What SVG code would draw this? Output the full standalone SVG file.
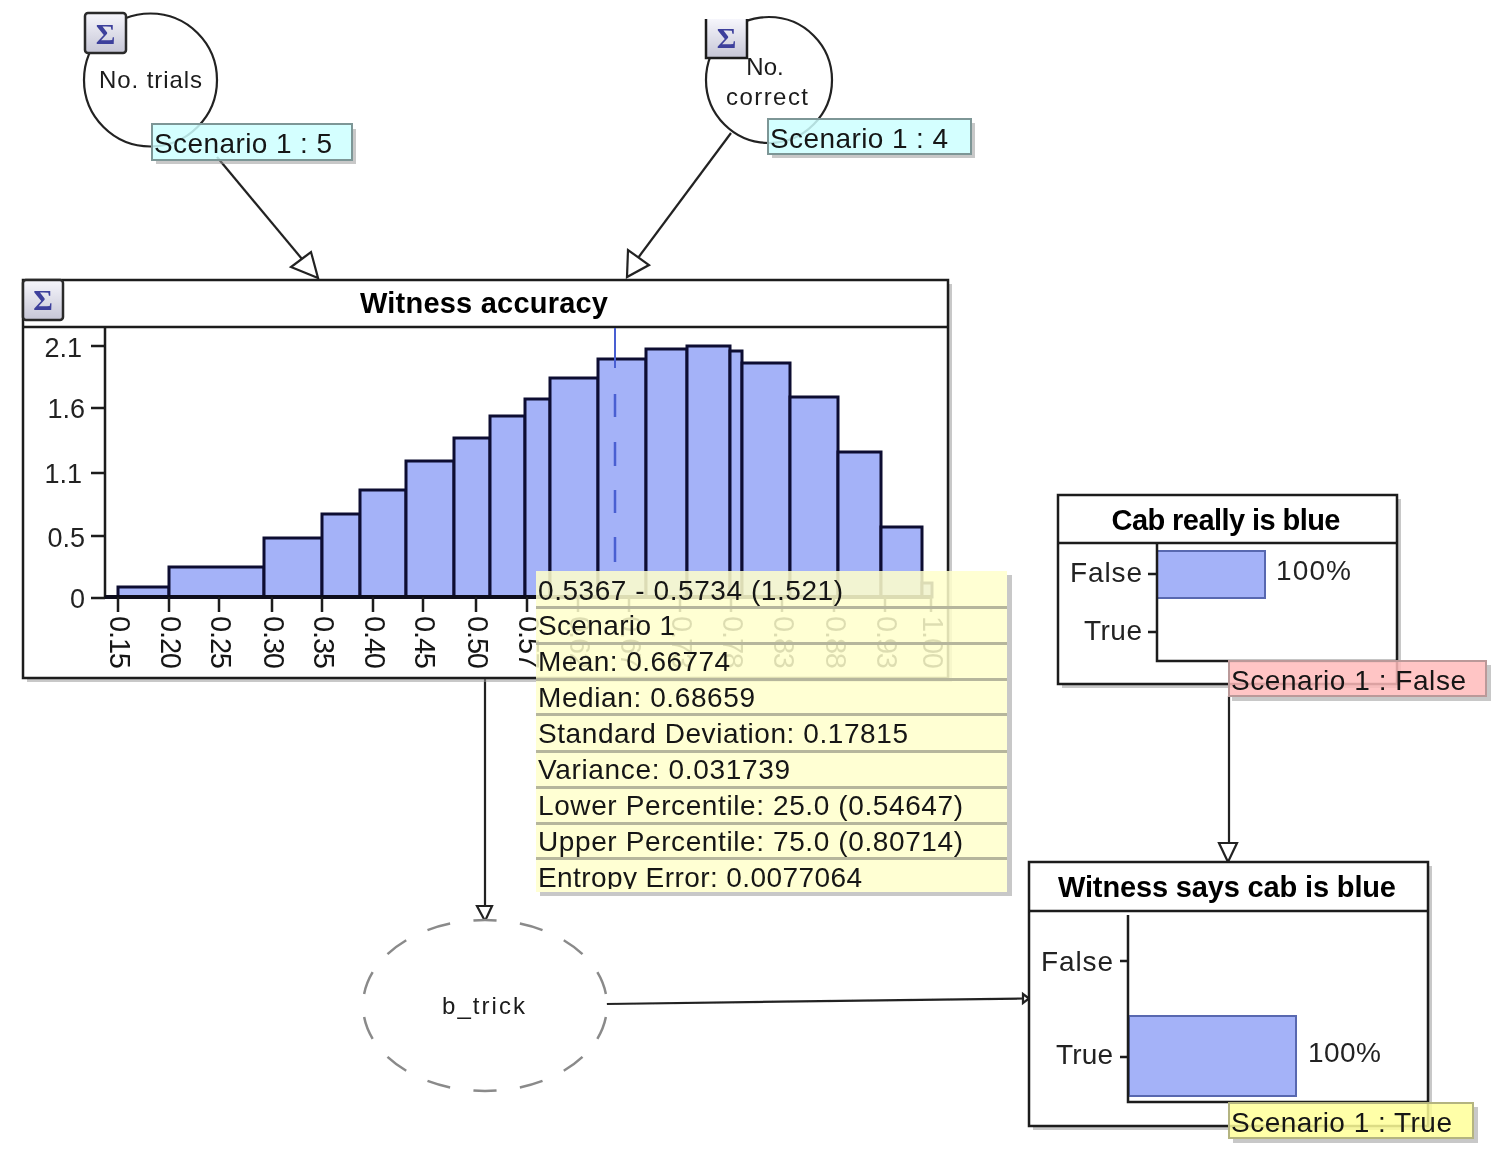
<svg xmlns="http://www.w3.org/2000/svg" width="1500" height="1156" viewBox="0 0 1500 1156">
<style>
text{font-family:"Liberation Sans",Arial,sans-serif;fill:#141414}
.t{font-size:28px}
.title{font-size:29px;font-weight:bold;fill:#000;text-anchor:middle}
.small{font-size:24px;fill:#1a1a1a}
.ax{font-size:28px;fill:#242424}
.yl{font-size:27px;fill:#242424;text-anchor:end}
.box{fill:#fff;stroke:#1a1a1a;stroke-width:2.5}
.line{stroke:#1a1a1a;stroke-width:2.5;fill:none}
.shadow{fill:#9a9a9a;fill-opacity:.55}
.bar{fill:#a4b2f8;stroke:#0c0c30;stroke-width:3}
.hbar{fill:#a4b2f8;stroke:#5868b0;stroke-width:2}
.conn{stroke:#222;stroke-width:2.2;fill:none}
.head{fill:#fff;stroke:#222;stroke-width:2.2}
.sigma{font-family:"Liberation Serif","DejaVu Serif",serif;font-size:30px;font-weight:bold;fill:#3c3f9c;text-anchor:middle}
.btn{fill:url(#btn);stroke:#2a2a2a;stroke-width:2.5}
.row{fill:#ffffcc;fill-opacity:.86}
.sep{fill:#b6b69c}
.xl{font-size:29px}
</style>
<defs>
<linearGradient id="btn" x1="0" y1="0" x2="0" y2="1"><stop offset="0" stop-color="#f6f6fc"/><stop offset="1" stop-color="#c6c6d6"/></linearGradient>
<clipPath id="lastrow"><rect x="530" y="860" width="480" height="29"/></clipPath>
<filter id="soft" x="0" y="0" width="1500" height="1156" filterUnits="userSpaceOnUse"><feGaussianBlur stdDeviation="0.6"/></filter>
</defs>
<rect width="1500" height="1156" fill="#fff"/>
<g filter="url(#soft)">
<g id="connectors">
<line class="conn" x1="217" y1="157" x2="302" y2="259"/>
<polygon class="head" points="318,278 291,267 311,252"/>
<line class="conn" x1="731" y1="133" x2="638" y2="258"/>
<polygon class="head" points="627,277 628,250 649,265"/>
<line class="conn" x1="485" y1="678" x2="485" y2="906"/>
<polygon class="head" points="485,921 477,906 492,906"/>
<line class="conn" x1="1229" y1="696" x2="1229" y2="843"/>
<polygon class="head" points="1228,862 1219,843 1237,843"/>
<line class="conn" x1="606" y1="1004" x2="1024" y2="998.5"/>
<polygon class="head" stroke-width="1.5" points="1029,998.5 1023,994 1023,1003"/>
</g>
<g id="node-no-trials">
<circle cx="150.500" cy="80" r="66.500" fill="#fff" stroke="#222" stroke-width="2.200"/>
<rect class="btn" x="85" y="13" width="41" height="40" rx="3"/>
<text class="sigma" x="105.500" y="44">Σ</text>
<text class="small" x="99" y="88" textLength="103">No. trials</text>
<path class="shadow" d="M156 160h196v-31h4v35h-200z"/>
<rect x="152" y="124" width="200" height="36" fill="#ccffff" fill-opacity=".85" stroke="#7d9696" stroke-width="2"/>
<text class="t" x="154" y="153" textLength="178">Scenario 1 : 5</text>
</g>
<g id="node-no-correct">
<circle cx="769" cy="80" r="63" fill="#fff" stroke="#222" stroke-width="2.200"/>
<rect x="706" y="19" width="41" height="39" fill="url(#btn)"/>
<path class="line" d="M706 19V58H747V19"/>
<text class="sigma" x="726.500" y="48">Σ</text>
<text class="small" x="765" y="75" text-anchor="middle">No.</text>
<text class="small" x="726" y="105" textLength="82">correct</text>
<path class="shadow" d="M772 154h199v-31h4v35h-203z"/>
<rect x="768" y="119" width="203" height="35" fill="#ccffff" fill-opacity=".85" stroke="#7d9696" stroke-width="2"/>
<text class="t" x="770" y="148" textLength="178">Scenario 1 : 4</text>
</g>
<g id="node-witness-accuracy">
<rect class="shadow" x="27" y="284" width="925" height="398"/>
<rect class="box" x="23" y="280" width="925" height="398"/>
<line class="line" x1="23" y1="327" x2="948" y2="327"/>
<rect class="btn" x="23" y="280" width="40" height="40" rx="3"/>
<text class="sigma" x="43" y="310">Σ</text>
<text class="title" x="484" y="313" textLength="248">Witness accuracy</text>
<g>
<rect class="bar" x="118" y="587" width="51" height="10"/>
<rect class="bar" x="169" y="567" width="95" height="30"/>
<rect class="bar" x="264" y="538" width="58" height="59"/>
<rect class="bar" x="322" y="514" width="38" height="83"/>
<rect class="bar" x="360" y="490" width="46" height="107"/>
<rect class="bar" x="406" y="461" width="48" height="136"/>
<rect class="bar" x="454" y="438" width="36" height="159"/>
<rect class="bar" x="490" y="416" width="35" height="181"/>
<rect class="bar" x="525" y="399" width="25" height="198"/>
<rect class="bar" x="550" y="378" width="48" height="219"/>
<rect class="bar" x="598" y="359" width="48" height="238"/>
<rect class="bar" x="646" y="349" width="41" height="248"/>
<rect class="bar" x="687" y="346" width="43" height="251"/>
<rect class="bar" x="730" y="351" width="12" height="246"/>
<rect class="bar" x="742" y="363" width="48" height="234"/>
<rect class="bar" x="790" y="397" width="48" height="200"/>
<rect class="bar" x="838" y="452" width="43" height="145"/>
<rect class="bar" x="881" y="527" width="41" height="70"/>
<rect class="bar" x="922" y="583" width="10" height="14"/>
</g>
<path d="M615 328V368" stroke="#4a5ed2" stroke-width="2" fill="none"/>
<path d="M615 394V417M615 442V466M615 490V513M615 537V562" stroke="#4a5ed2" stroke-width="2.500" fill="none"/>
<path class="line" d="M105 328V597H932" />
<line x1="105" y1="597" x2="932" y2="597" stroke="#0c0c1c" stroke-width="4"/>
<path class="line" d="M91 346H105M91 408H105M91 473H105M91 536H105M91 598H105"/>
<path class="line" d="M118 597V612M169 597V612M219 597V612M272 597V612M322 597V612M373 597V612M423 597V612M476 597V612M527 597V612M578 597V612M629 597V612M680 597V612M731 597V612M782 597V612M834 597V612M885 597V612M931 597V612"/>
<text class="yl" x="82" y="357">2.1</text>
<text class="yl" x="85" y="418">1.6</text>
<text class="yl" x="82" y="483">1.1</text>
<text class="yl" x="85" y="547">0.5</text>
<text class="yl" x="85" y="608">0</text>
<text class="xl" transform="translate(110 616) rotate(90)" textLength="53">0.15</text>
<text class="xl" transform="translate(161 616) rotate(90)" textLength="53">0.20</text>
<text class="xl" transform="translate(211 616) rotate(90)" textLength="53">0.25</text>
<text class="xl" transform="translate(264 616) rotate(90)" textLength="53">0.30</text>
<text class="xl" transform="translate(314 616) rotate(90)" textLength="53">0.35</text>
<text class="xl" transform="translate(365 616) rotate(90)" textLength="53">0.40</text>
<text class="xl" transform="translate(415 616) rotate(90)" textLength="53">0.45</text>
<text class="xl" transform="translate(468 616) rotate(90)" textLength="53">0.50</text>
<text class="xl" transform="translate(519 616) rotate(90)" textLength="53">0.57</text>
<text class="xl" transform="translate(570 616) rotate(90)" textLength="53">0.62</text>
<text class="xl" transform="translate(621 616) rotate(90)" textLength="53">0.67</text>
<text class="xl" transform="translate(672 616) rotate(90)" textLength="53">0.73</text>
<text class="xl" transform="translate(723 616) rotate(90)" textLength="53">0.78</text>
<text class="xl" transform="translate(774 616) rotate(90)" textLength="53">0.83</text>
<text class="xl" transform="translate(826 616) rotate(90)" textLength="53">0.88</text>
<text class="xl" transform="translate(877 616) rotate(90)" textLength="53">0.93</text>
<text class="xl" transform="translate(923 616) rotate(90)" textLength="53">1.00</text>
</g>
<g id="node-cab-really-is-blue">
<rect class="shadow" x="1062" y="499" width="339" height="189"/>
<rect class="box" x="1058" y="495" width="339" height="189"/>
<line class="line" x1="1058" y1="543" x2="1397" y2="543"/>
<text class="title" x="1226" y="530" textLength="229">Cab really is blue</text>
<rect class="hbar" x="1157" y="551" width="108" height="47"/>
<path class="line" d="M1157 543V661H1397M1148 574H1157M1148 632H1157"/>
<text class="ax" x="1070" y="582" textLength="72">False</text>
<text class="ax" x="1084" y="640" textLength="58">True</text>
<text class="ax" x="1276" y="580" textLength="75">100%</text>
<path class="shadow" d="M1232 696h254v-31h5v36h-259z"/>
<rect x="1229" y="661" width="257" height="35" fill="#ffbbbb" fill-opacity=".85" stroke="#bb9999" stroke-width="2"/>
<text class="t" x="1231" y="690" textLength="235">Scenario 1 : False</text>
</g>
<g id="node-witness-says-cab-is-blue">
<rect class="shadow" x="1033" y="866" width="399" height="264"/>
<rect class="box" x="1029" y="862" width="399" height="264"/>
<line class="line" x1="1029" y1="911" x2="1428" y2="911"/>
<text class="title" x="1227" y="897" textLength="338">Witness says cab is blue</text>
<rect class="hbar" x="1129" y="1016" width="167" height="80"/>
<path class="line" d="M1128 915V1102H1428M1120 961H1128M1120 1057H1128"/>
<text class="ax" x="1041" y="971" textLength="72">False</text>
<text class="ax" x="1056" y="1064" textLength="57">True</text>
<text class="ax" x="1308" y="1062" textLength="73">100%</text>
<path class="shadow" d="M1233 1138h240v-31h5v36h-245z"/>
<rect x="1229" y="1103" width="244" height="35" fill="#ffff99" fill-opacity=".85" stroke="#b4b480" stroke-width="2"/>
<text class="t" x="1231" y="1132" textLength="221">Scenario 1 : True</text>
</g>
<g id="node-b-trick">
<ellipse cx="485" cy="1005.500" rx="122" ry="85.500" fill="#fff" stroke="#8a8a8a" stroke-width="2.500" pathLength="140" stroke-dasharray="5 5" stroke-dashoffset="-2.500"/>
<text class="small" x="442" y="1014" textLength="83">b_trick</text>
</g>
<g id="tooltip">
<rect class="shadow" x="1007" y="575" width="5" height="321"/>
<rect class="shadow" x="540" y="892" width="467" height="4"/>
<rect class="row" x="536" y="571" width="471" height="321"/>
<rect class="sep" x="536" y="606" width="471" height="3"/>
<rect class="sep" x="536" y="642" width="471" height="3"/>
<rect class="sep" x="536" y="678" width="471" height="3"/>
<rect class="sep" x="536" y="713" width="471" height="3"/>
<rect class="sep" x="536" y="750" width="471" height="3"/>
<rect class="sep" x="536" y="786" width="471" height="3"/>
<rect class="sep" x="536" y="822" width="471" height="3"/>
<rect class="sep" x="536" y="857" width="471" height="3"/>
<text class="t" x="538" y="600" textLength="305">0.5367 - 0.5734 (1.521)</text>
<text class="t" x="538" y="635" textLength="137">Scenario 1</text>
<text class="t" x="538" y="671" textLength="192">Mean: 0.66774</text>
<text class="t" x="538" y="707" textLength="217">Median: 0.68659</text>
<text class="t" x="538" y="743" textLength="370">Standard Deviation: 0.17815</text>
<text class="t" x="538" y="779" textLength="252">Variance: 0.031739</text>
<text class="t" x="538" y="815" textLength="425">Lower Percentile: 25.0 (0.54647)</text>
<text class="t" x="538" y="851" textLength="425">Upper Percentile: 75.0 (0.80714)</text>
<text class="t" x="538" y="887" textLength="324" clip-path="url(#lastrow)">Entropy Error: 0.0077064</text>
</g>
</g>
</svg>
